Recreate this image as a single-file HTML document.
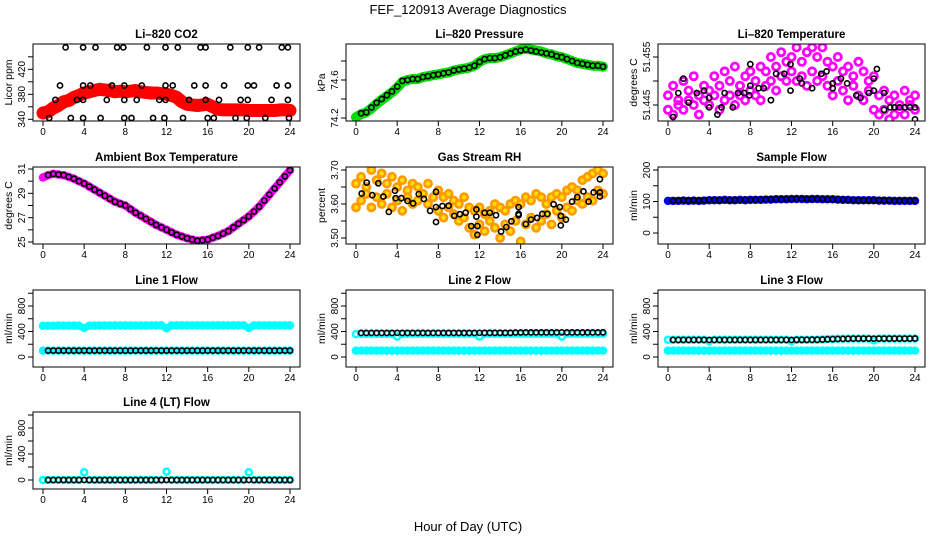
<!DOCTYPE html>
<html><head><meta charset="utf-8"><style>
html,body{margin:0;padding:0;background:#fff;}
svg{display:block;font-family:"Liberation Sans",Arial,sans-serif;}
</style></head>
<body>
<svg id="chart" width="936" height="540" viewBox="0 0 936 540" xmlns="http://www.w3.org/2000/svg">
<rect width="936" height="540" fill="#fff"/>
<text x="468" y="14" font-size="13" text-anchor="middle">FEF_120913  Average Diagnostics</text>
<text x="468" y="531" font-size="13" text-anchor="middle">Hour of Day (UTC)</text>
</svg>
<script>
// ---- data ----
const xTicks = [0,4,8,12,16,20,24];
const co2Red = [350,352,358,362,368,370,375,378,382,384,386,388,387,386,384,385,384,385,386,384,383,382,382,381,380,378,375,368,364,363,362,363,364,360,356,355,355,355,355,355,354,354,354,354,354,354,355,355,354];
const co2BlkHours = [2.2,3.9,5.1,7.2,7.8,10.1,11.9,13.1,15.3,15.8,18.2,19.9,21.0,23.2,23.8, 1.65,3.9,4.6,6.7,7.9,9.6,11.9,12.6,14.7,15.8,17.6,19.9,20.5,22.7,23.8, 1.2,3.3,3.9,6.2,7.9,9.1,11.3,11.9,14.2,15.8,17.1,19.2,19.9,22.2,23.8, 0.6,2.7,3.9,5.6,7.9,8.6,10.7,11.8,13.6,16.0,16.6,18.7,19.8,21.6,23.9];
const co2BlkValues = [455,455,455,455,455,455,455,455,455,455,455,455,455,455,455, 394,394,394,394,394,394,394,394,394,394,394,394,394,394,394, 371,371,371,371,371,371,371,371,371,371,371,371,371,371,371, 342,342,342,342,342,342,342,342,342,342,342,342,342,342,342];
const presGreen = [74.21,74.24,74.26,74.30,74.35,74.39,74.43,74.47,74.52,74.58,74.60,74.61,74.61,74.63,74.64,74.65,74.66,74.67,74.68,74.70,74.71,74.72,74.73,74.75,74.79,74.82,74.83,74.83,74.84,74.86,74.88,74.90,74.92,74.93,74.92,74.91,74.90,74.88,74.87,74.85,74.84,74.82,74.80,74.78,74.77,74.76,74.75,74.75,74.74];
const presBlack = [74.25,74.26,74.31,74.36,74.40,74.44,74.48,74.53,74.59,74.60,74.61,74.61,74.63,74.64,74.65,74.66,74.67,74.68,74.70,74.71,74.72,74.73,74.75,74.79,74.82,74.83,74.83,74.84,74.86,74.88,74.90,74.91,74.92,74.91,74.90,74.89,74.88,74.87,74.85,74.84,74.82,74.80,74.78,74.77,74.76,74.75,74.75,74.74];
const tempA = [51.447,51.449,51.446,51.450,51.448,51.451,51.447,51.449,51.448,51.451,51.449,51.452,51.450,51.453,51.449,51.451,51.452,51.450,51.453,51.452,51.455,51.453,51.456,51.454,51.455,51.457,51.454,51.456,51.457,51.455,51.457,51.454,51.453,51.455,51.452,51.453,51.451,51.454,51.452,51.450,51.451,51.447,51.448,51.446,51.447,51.445,51.448,51.446,51.447];
const tempB = [51.444,51.443,51.445,51.444,51.446,51.445,51.443,51.446,51.445,51.447,51.444,51.446,51.447,51.445,51.447,51.446,51.448,51.447,51.446,51.449,51.450,51.448,51.451,51.450,51.452,51.450,51.451,51.449,51.452,51.450,51.451,51.449,51.447,51.450,51.448,51.446,51.449,51.447,51.446,51.448,51.444,51.443,51.444,51.442,51.443,51.444,51.443,51.445,51.444];
const tempBlkHours = [0.5,1,1.5,2,2.8,3.5,4,4,4.8,5.2,5.5,6.3,6.8,7.4,7.9,8,8,8.8,9.3,10,10.5,11.3,11.9,11.9,12.8,13,14,14.9,15.4,16,16,16.8,17.4,18.3,18.7,19.5,20.3,20,20,21,21,21.6,22,22.5,23,23.5,24,24,24];
const tempBlkValues = [51.4425,51.4475,51.4505,51.4455,51.4475,51.448,51.4465,51.4445,51.443,51.4445,51.4475,51.4445,51.4475,51.4475,51.447,51.449,51.4535,51.4485,51.4485,51.446,51.4515,51.4515,51.4535,51.448,51.4505,51.4495,51.4485,51.4515,51.452,51.4495,51.4485,51.4505,51.4495,51.447,51.4465,51.4475,51.4525,51.4505,51.448,51.4475,51.444,51.4445,51.4445,51.4445,51.4445,51.4445,51.4445,51.442,51.441];
const ambMagenta = [30.3,30.5,30.6,30.55,30.5,30.35,30.2,30.0,29.8,29.55,29.3,29.05,28.8,28.55,28.3,28.15,28.0,27.7,27.4,27.15,26.9,26.65,26.4,26.2,26.0,25.8,25.6,25.45,25.3,25.2,25.1,25.15,25.2,25.35,25.5,25.7,25.9,26.2,26.5,26.8,27.1,27.5,27.9,28.4,28.9,29.4,29.9,30.4,30.9];
const ambBlack = [30.5,30.6,30.55,30.5,30.35,30.2,30.0,29.8,29.55,29.3,29.05,28.8,28.55,28.3,28.15,28.0,27.7,27.4,27.15,26.9,26.65,26.4,26.2,26.0,25.8,25.6,25.45,25.3,25.2,25.1,25.15,25.2,25.35,25.5,25.7,25.9,26.2,26.5,26.8,27.1,27.5,27.9,28.4,28.9,29.4,29.9,30.4,30.9];
const rhA = [3.66,3.68,3.65,3.70,3.67,3.69,3.66,3.68,3.65,3.67,3.64,3.66,3.65,3.63,3.66,3.62,3.64,3.62,3.63,3.61,3.60,3.62,3.59,3.58,3.59,3.57,3.58,3.60,3.59,3.58,3.60,3.61,3.60,3.62,3.61,3.63,3.62,3.60,3.62,3.63,3.62,3.64,3.65,3.64,3.67,3.68,3.69,3.70,3.69];
const rhB = [3.59,3.61,3.63,3.59,3.62,3.60,3.63,3.59,3.61,3.58,3.62,3.60,3.61,3.63,3.60,3.62,3.58,3.56,3.59,3.57,3.55,3.56,3.53,3.51,3.54,3.52,3.55,3.53,3.50,3.54,3.52,3.55,3.49,3.54,3.56,3.53,3.55,3.57,3.54,3.58,3.56,3.59,3.58,3.61,3.60,3.62,3.61,3.64,3.63];
const rhBlkHours = [0.55,1.04,1.58,2.17,2.66,3.2,3.79,3.85,4.4,5.0,5.55,6.1,6.6,7.2,7.77,7.77,7.77,8.4,9.0,9.55,10.1,10.65,11.2,11.7,11.7,11.8,11.8,12.5,13.0,13.6,14.1,14.6,15.1,15.8,15.8,15.8,16.5,17.0,17.6,18.1,18.6,19.2,19.8,19.9,19.9,20.4,21.0,21.5,22.1,22.6,23.1,23.7,23.7,23.7];
const rhBlkValues = [3.631,3.663,3.626,3.661,3.622,3.577,3.639,3.617,3.617,3.609,3.602,3.629,3.615,3.580,3.636,3.591,3.547,3.594,3.595,3.565,3.570,3.574,3.535,3.584,3.563,3.535,3.509,3.574,3.574,3.567,3.519,3.532,3.549,3.591,3.571,3.567,3.541,3.554,3.559,3.571,3.571,3.599,3.591,3.565,3.537,3.554,3.607,3.620,3.637,3.607,3.634,3.634,3.622,3.673];
const sampleBlue = [102,102,102,103,102,103,102,103,104,104,104,105,104,104,105,104,105,105,105,106,106,107,107,107,108,108,108,107,108,108,107,107,107,106,105,105,104,104,104,104,104,103,103,103,102,102,102,102,102];
const sampleBlack = [102,103,104,103,104,103,104,105,105,104,105,104,105,105,106,105,106,106,107,107,108,107,108,108,108,108,108,108,108,108,107,107,107,106,105,105,104,104,104,104,104,103,103,102,102,102,102,102];
const line1CyanHi = [490,490,490,492,492,492,492,490,455,490,492,494,494,494,494,494,494,494,494,494,494,495,495,495,450,495,495,496,496,496,496,496,496,496,496,496,496,496,496,496,455,496,496,495,495,495,495,495,495];
const line1CyanLo = [100,100,100,100,100,100,100,100,100,100,100,100,100,100,100,100,100,100,100,100,100,100,100,100,100,100,100,100,100,100,100,100,100,100,100,100,100,100,100,100,100,100,100,100,100,100,100,100,100];
const line1Black = [100,100,100,100,100,100,100,100,100,100,100,100,100,100,100,100,100,100,100,100,100,100,100,100,100,100,100,100,100,100,100,100,100,100,100,100,100,100,100,100,100,100,100,100,100,100,100,100];
const line2CyanHi = [360,362,362,362,362,362,362,362,320,362,364,364,364,364,364,364,364,364,364,364,364,364,364,364,320,366,366,366,366,366,366,366,366,366,366,366,366,366,366,366,320,366,366,366,366,366,366,366,366];
const line2CyanLo = [100,100,100,100,100,100,100,100,100,100,100,100,100,100,100,100,100,100,100,100,100,100,100,100,100,100,100,100,100,100,100,100,100,100,100,100,100,100,100,100,100,100,100,100,100,100,100,100,100];
const line2Black = [378,378,378,378,378,378,378,378,378,378,378,378,378,378,378,378,378,378,378,378,378,378,378,378,380,380,380,380,380,380,384,384,386,386,386,386,386,386,386,386,386,386,386,386,386,386,386,388];
const line3CyanHi = [270,270,270,270,270,270,270,270,250,270,270,270,270,270,270,270,270,270,270,270,270,270,270,270,250,272,272,272,272,272,275,280,280,285,285,288,288,288,288,288,260,288,288,288,288,288,288,288,288];
const line3CyanLo = [100,100,100,100,100,100,100,100,100,100,100,100,100,100,100,100,100,100,100,100,100,100,100,100,100,100,100,100,100,100,100,100,100,100,100,100,100,100,100,100,100,100,100,100,100,100,100,100,100];
const line3Black = [268,268,268,268,268,268,268,268,268,268,268,268,268,268,268,268,268,268,268,268,268,268,268,268,270,270,270,272,272,275,278,280,282,284,286,288,288,288,288,288,288,288,288,288,288,288,288,290];
const line4Cyan = [0,0,0,0,0,0,0,0,120,0,0,0,0,0,0,0,0,0,0,0,0,0,0,0,130,0,0,0,0,0,0,0,0,0,0,0,0,0,0,0,120,0,0,0,0,0,0,0,0];
const line4Black = [0,0,0,0,0,0,0,0,0,0,0,0,0,0,0,0,0,0,0,0,0,0,0,0,0,0,0,0,0,0,0,0,0,0,0,0,0,0,0,0,0,0,0,0,0,0,0,0];

const hoursColor = [];
for (let i = 0; i <= 48; i++) hoursColor.push(i / 2);
const hoursBlack = [];
for (let i = 1; i <= 48; i++) hoursBlack.push(i / 2);

// ---- drawing ----
const NS = "http://www.w3.org/2000/svg";
const svg = document.getElementById("chart");
function mk(tag, attrs, parent) {
  const el = document.createElementNS(NS, tag);
  for (const k in attrs) el.setAttribute(k, attrs[k]);
  (parent || svg).appendChild(el);
  return el;
}
const W = 267, H = 77;

function panel(p) {
  const g = mk("g", {});
  
  
  const xs = h => p.L + 10 + h * 247 / 24;
  const ys = v => p.y1 + (v - p.v1) * (p.y2 - p.y1) / (p.v2 - p.v1);
  const B = p.T + H;
  const clip = mk("clipPath", { id: "c" + p.name }, g);
  mk("rect", { x: p.L, y: p.T, width: W, height: H }, clip);
  const plot = mk("g", { "clip-path": "url(#c" + p.name + ")" }, g);
  
  
  p.series.forEach(s => {
    const sg = mk("g", {}, plot);
    
    
    if (s.band) {
      const pts = s.hours.map((h, i) => xs(h).toFixed(1) + "," + ys(s.values[i]).toFixed(1)).join(" ");
      const pl = mk("polyline", { points: pts, fill: "none", stroke: s.color, "stroke-width": s.band, "stroke-linejoin": "round", "stroke-linecap": "round" }, sg);
      
      
    }
    s.hours.forEach((h, i) => {
      const c = mk("circle", { cx: xs(h).toFixed(1), cy: ys(s.values[i]).toFixed(1), r: s.r || 2.6, fill: s.fill || "none", stroke: s.color, "stroke-width": s.sw || 1.6 }, sg);
      
      
    });
  });
  const box = mk("rect", { x: p.L, y: p.T, width: W, height: H, fill: "none", stroke: "#000", "stroke-width": 1 }, g);
  
  
  const t = mk("text", { x: p.L + W / 2, y: p.T - 6, "font-size": 11.5, "font-weight": "bold", "text-anchor": "middle" }, g);
  t.textContent = p.title;
  
  
  xTicks.forEach(h => {
    const tk = mk("line", { x1: xs(h), x2: xs(h), y1: B, y2: B + 5, stroke: "#000" }, g);
    
    
    const lb = mk("text", { x: xs(h), y: B + 14, "font-size": 10, "text-anchor": "middle" }, g);
    lb.textContent = h;
    
    
  });
  p.yTicks.forEach(v => {
    const yy = ys(v);
    const tk = mk("line", { x1: p.L - 5, x2: p.L, y1: yy, y2: yy, stroke: "#000" }, g);
    
    
  });
  p.yLabels.forEach(v => {
    const yy = ys(v);
    const lb = mk("text", { x: 0, y: 0, "font-size": 10, "text-anchor": "middle", transform: "translate(" + (p.L - 8) + "," + yy + ") rotate(-90)" }, g);
    lb.textContent = v.toFixed(p.dec || 0);
    
    
  });
  const yl = mk("text", { x: 0, y: 0, "font-size": 10.5, "text-anchor": "middle", transform: "translate(" + (p.L - 21) + "," + (p.T + H / 2) + ") rotate(-90)" }, g);
  yl.textContent = p.ylab;
  
  
}

const flowTicks = [0,200,400,600,800,1000], flowLabels = [0,400,800];
panel({ name: "co2", title: "Li\u2013820 CO2", ylab: "Licor ppm", L: 33, T: 44, v1: 340, y1: 119.3, v2: 420, y2: 69.3,
  yTicks: [340,360,380,400,420,440], yLabels: [340,380,420],
  series: [
    { name: "co2-red", hours: hoursColor, values: co2Red, color: "#ff0000", band: 13, r: 3.5, sw: 2.5 },
    { name: "co2-black", hours: co2BlkHours, values: co2BlkValues, color: "#000" }
  ] });
panel({ name: "pressure", title: "Li\u2013820 Pressure", ylab: "kPa", L: 346, T: 44, v1: 74.2, y1: 118, v2: 74.6, y2: 80, dec: 1,
  yTicks: [74.2,74.4,74.6,74.8], yLabels: [74.2,74.6],
  series: [
    { name: "pressure-green", hours: hoursColor, values: presGreen, color: "#00dd00", band: 10, r: 3, sw: 2.5 },
    { name: "pressure-black", hours: hoursBlack, values: presBlack, color: "#000" }
  ] });
panel({ name: "temperature", title: "Li\u2013820 Temperature", ylab: "degrees C", L: 658, T: 44, v1: 51.445, y1: 105, v2: 51.455, y2: 57, dec: 3,
  yTicks: [51.445,51.45,51.455], yLabels: [51.445,51.455],
  series: [
    { name: "temperature-magenta-a", hours: hoursColor, values: tempA, color: "#ff00ff", r: 3.6, sw: 2.8 },
    { name: "temperature-magenta-b", hours: hoursColor, values: tempB, color: "#ff00ff", r: 3.6, sw: 2.8 },
    { name: "temperature-black", hours: tempBlkHours, values: tempBlkValues, color: "#000" }
  ] });
panel({ name: "ambient", title: "Ambient Box Temperature", ylab: "degrees C", L: 33, T: 167, v1: 25, y1: 242, v2: 31, y2: 169,
  yTicks: [25,26,27,28,29,30,31], yLabels: [25,27,29,31],
  series: [
    { name: "ambient-magenta", hours: hoursColor, values: ambMagenta, color: "#ff00ff", band: 8, r: 3, sw: 2.5 },
    { name: "ambient-black", hours: hoursBlack, values: ambBlack, color: "#000" }
  ] });
panel({ name: "rh", title: "Gas Stream RH", ylab: "percent", L: 346, T: 167, v1: 3.5, y1: 238, v2: 3.7, y2: 170, dec: 2,
  yTicks: [3.5,3.55,3.6,3.65,3.7], yLabels: [3.5,3.6,3.7],
  series: [
    { name: "rh-orange-a", hours: hoursColor, values: rhA, color: "#ff9900", fill: "#ffdd00", r: 3.6, sw: 2.6 },
    { name: "rh-orange-b", hours: hoursColor, values: rhB, color: "#ff9900", fill: "#ffdd00", r: 3.6, sw: 2.6 },
    { name: "rh-black", hours: rhBlkHours, values: rhBlkValues, color: "#000" }
  ] });
panel({ name: "sample-flow", title: "Sample Flow", ylab: "ml/min", L: 658, T: 167, v1: 0, y1: 233, v2: 200, y2: 170,
  yTicks: [0,50,100,150,200], yLabels: [0,100,200],
  series: [
    { name: "sample-blue", hours: hoursColor, values: sampleBlue, color: "#0000ff", band: 7, r: 3, sw: 2.5 },
    { name: "sample-black", hours: hoursBlack, values: sampleBlack, color: "#000" }
  ] });
panel({ name: "line1", title: "Line 1 Flow", ylab: "ml/min", L: 33, T: 290, v1: 0, y1: 357, v2: 800, y2: 306,
  yTicks: flowTicks, yLabels: flowLabels,
  series: [
    { name: "line1-cyan-high", hours: hoursColor, values: line1CyanHi, color: "#00ffff", band: 7, r: 3, sw: 2.5 },
    { name: "line1-cyan-low", hours: hoursColor, values: line1CyanLo, color: "#00ffff", band: 7, r: 3, sw: 2.5 },
    { name: "line1-black", hours: hoursBlack, values: line1Black, color: "#000" }
  ] });
panel({ name: "line2", title: "Line 2 Flow", ylab: "ml/min", L: 346, T: 290, v1: 0, y1: 357, v2: 800, y2: 306,
  yTicks: flowTicks, yLabels: flowLabels,
  series: [
    { name: "line2-cyan-high", hours: hoursColor, values: line2CyanHi, color: "#00ffff", r: 3, sw: 2.5 },
    { name: "line2-cyan-low", hours: hoursColor, values: line2CyanLo, color: "#00ffff", band: 6, r: 3, sw: 2.5 },
    { name: "line2-black", hours: hoursBlack, values: line2Black, color: "#000" }
  ] });
panel({ name: "line3", title: "Line 3 Flow", ylab: "ml/min", L: 658, T: 290, v1: 0, y1: 357, v2: 800, y2: 306,
  yTicks: flowTicks, yLabels: flowLabels,
  series: [
    { name: "line3-cyan-high", hours: hoursColor, values: line3CyanHi, color: "#00ffff", r: 3, sw: 2.5 },
    { name: "line3-cyan-low", hours: hoursColor, values: line3CyanLo, color: "#00ffff", band: 6, r: 3, sw: 2.5 },
    { name: "line3-black", hours: hoursBlack, values: line3Black, color: "#000" }
  ] });
panel({ name: "line4", title: "Line 4 (LT) Flow", ylab: "ml/min", L: 33, T: 412, v1: 0, y1: 480, v2: 800, y2: 428,
  yTicks: flowTicks, yLabels: flowLabels,
  series: [
    { name: "line4-cyan", hours: hoursColor, values: line4Cyan, color: "#00ffff", r: 3, sw: 2.5 },
    { name: "line4-black", hours: hoursBlack, values: line4Black, color: "#000" }
  ] });
</script>
</body></html>
